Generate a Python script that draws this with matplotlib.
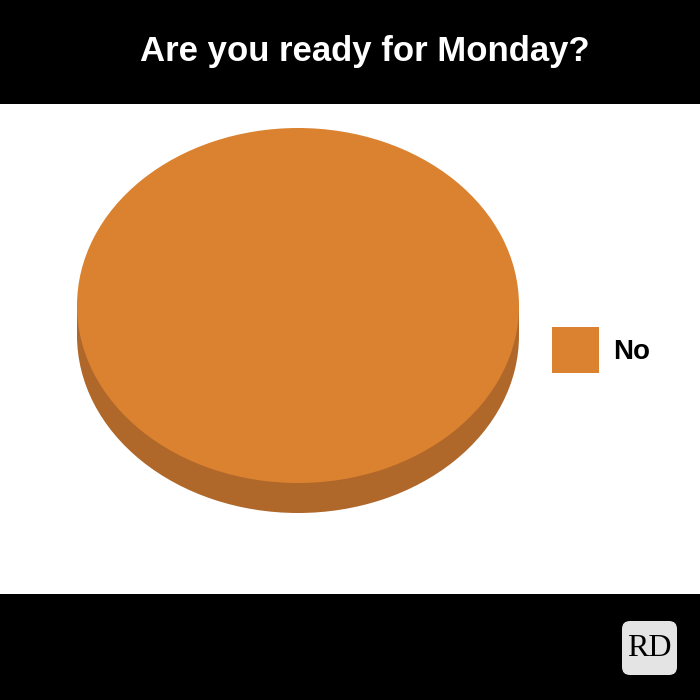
import numpy as np
import matplotlib.pyplot as plt
from matplotlib.patches import Rectangle, FancyBboxPatch

title = 'Are you ready for Monday?'
labels = ['No']
values = [100]
top_colors = ['#DB8230']
side_colors = ['#B0672A']

W = 700
H = 700

fig = plt.figure(figsize=(7, 7), dpi=100)
fig.patch.set_facecolor('black')

# background in pixel coords (y down)
bg = fig.add_axes([0, 0, 1, 1])
bg.set_xlim(0, W)
bg.set_ylim(H, 0)
bg.axis('off')
bg.add_patch(Rectangle((0, 104), W, 490, facecolor='white', edgecolor='none'))
bg.text(365, 51, title, color='white', fontsize=25, fontweight='bold',
        family='Liberation Sans', ha='center', va='center')

# RD badge
bg.add_patch(FancyBboxPatch((626, 625), 47, 46, boxstyle='round,pad=4,rounding_size=8',
                            facecolor='#E4E4E4', edgecolor='none'))
bg.text(649.5, 648, 'RD', color='black', fontsize=23, family='Liberation Serif',
        ha='center', va='center')

# 3d-ish pie: ellipse box x 77..519, top 128..483, side 30px thick
left, right = 77, 519
top, bot = 128, 483
depth = 30
semi_h = (bot - top) / 2
d = depth / semi_h

pax = fig.add_axes([left / W, 1 - (bot + depth) / H, (right - left) / W, (bot + depth - top) / H])
pax.patch.set_alpha(0)

# side: shifted pie + band between the two centres
side, _ = pax.pie(values, colors=side_colors, center=(0, -d), radius=1,
                  startangle=90, counterclock=False)
pax.add_patch(Rectangle((-1, -d), 2, d, facecolor=side_colors[0], edgecolor='none'))
wedges, _ = pax.pie(values, colors=top_colors, center=(0, 0), radius=1,
                    startangle=90, counterclock=False)
pax.set_aspect('auto')
pax.set_xlim(-1, 1)
pax.set_ylim(-1 - d, 1)
pax.axis('off')

fig.legend(wedges, labels, loc='center left', bbox_to_anchor=(552 / W, 1 - 350 / H),
           frameon=False, prop={'family': 'Liberation Sans', 'weight': 'bold', 'size': 20},
           handlelength=1.7, handleheight=2.15, handletextpad=0.5, borderpad=0,
           borderaxespad=0)

fig.savefig('out.png', dpi=100, facecolor='black')
